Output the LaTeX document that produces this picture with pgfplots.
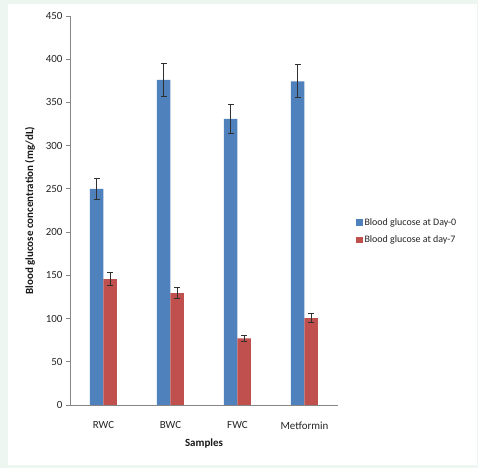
\documentclass[border=0pt]{standalone}
\usepackage{pgfplots}
\pgfplotsset{compat=1.18}
\usepackage{fontspec}
\setmainfont{Carlito}
\definecolor{bgmint}{HTML}{EEF6F2}
\definecolor{xlblue}{HTML}{4F81BD}
\definecolor{xlred}{HTML}{C0504D}
\definecolor{axgray}{HTML}{868686}
\definecolor{errc}{HTML}{303030}
\pgfplotsset{
  errb/.style={
    error bars/y dir=both, error bars/y explicit,
    error bars/error bar style={line width=0.9bp, color=errc},
    error bars/error mark options={rotate=90, line width=0.9bp, mark size=2.8bp, color=errc},
  },
  sqlegend/.style={legend image code/.code={\fill[##1] (0bp,-3.3bp) rectangle (6.6bp,3.3bp);}},
}
\begin{document}
\begin{tikzpicture}
\fill[bgmint] (0bp,0bp) rectangle (478bp,468bp);
\fill[white] (8bp,3bp) rectangle (477bp,464bp);
\begin{axis}[
  at={(70bp,63bp)}, anchor=south west,
  scale only axis, width=268bp, height=389bp,
  xmin=-0.5, xmax=3.5, ymin=0, ymax=450,
  ytick={0,50,...,450},
  xtick={0,1,2,3}, xticklabels={RWC,BWC,FWC,Metformin},
  axis lines*=left,
  axis line style={axgray, line width=0.8bp},
  xtick style={draw=none},
  ytick style={axgray, line width=0.8bp},
  tick align=outside, major tick length=4bp,
  /pgf/number format/assume math mode=true,
  ticklabel style={font=\fontsize{11}{13}\selectfont, text=black!85},
  xticklabel style={yshift=-9bp},
  every axis y label/.style={at={(axis description cs:-0.1493,0.5)}, anchor=center, rotate=90},
  every axis x label/.style={at={(axis description cs:0.5,-0.1003)}, anchor=center},
  label style={font=\fontsize{11}{13}\selectfont\bfseries, text=black!90},
  ylabel={Blood glucose concentration (mg/dL)},
  xlabel={Samples},
  ybar=0pt, bar width=13.5bp,
  legend style={at={(axis description cs:1.055,0.49)}, anchor=north west,
    draw=none, fill=none, font=\fontsize{10}{12}\selectfont, text=black!85,
    row sep=5bp},
  legend cell align=left,
]
\addplot[fill=xlblue, draw=none, sqlegend, errb] coordinates {
  (0,250) +- (0,12.5)
  (1,376) +- (0,19)
  (2,331) +- (0,16.6)
  (3,374.5) +- (0,19)
};
\addplot[fill=xlred, draw=none, sqlegend, errb] coordinates {
  (0,145.5) +- (0,7.5)
  (1,129.5) +- (0,6.7)
  (2,77) +- (0,4)
  (3,100.5) +- (0,5.2)
};
\legend{Blood glucose at Day-0, Blood glucose at day-7}
\end{axis}
\pgfresetboundingbox
\path[use as bounding box] (0bp,0bp) rectangle (478bp,468bp);
\end{tikzpicture}
\end{document}
